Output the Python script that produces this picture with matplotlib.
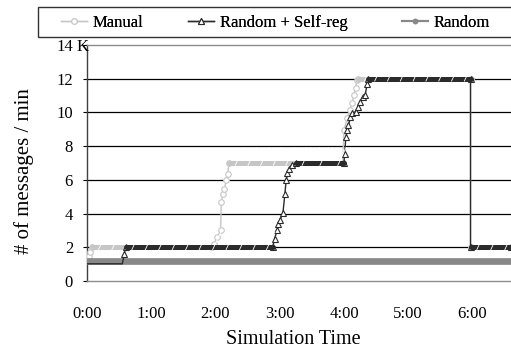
import numpy as np
import matplotlib
matplotlib.use("Agg")
import matplotlib.pyplot as plt
import matplotlib.patches as patches
import matplotlib.patheffects as pe

plt.rcParams['font.family'] = ['Liberation Serif', 'DejaVu Serif']

# Dane (czas w godzinach, wartosci w tys. wiadomosci/min)
manual_t = [0.0, 0.03, 0.05, 0.08, 1.95, 1.98, 2.03, 2.08, 2.09, 2.12, 2.14,
            2.17, 2.19, 2.21, 3.98, 4.0, 4.05, 4.09, 4.13, 4.15, 4.18, 4.2,
            4.22, 5.97, 5.97, 6.6]
manual_v = [1.2, 1.5, 1.7, 2.0, 2.0, 2.22, 2.61, 3.01, 4.69, 5.19, 5.48,
            5.98, 6.34, 7.0, 7.0, 8.95, 9.64, 10.14, 10.53, 11.03, 11.42, 11.92,
            12.0, 12.0, 2.0, 2.0]

selfreg_t = [0.0, 0.55, 0.58, 0.6, 2.89, 2.92, 2.96, 2.98, 3.0, 3.05, 3.08,
             3.1, 3.12, 3.14, 3.19, 3.25, 4.0, 4.01, 4.03, 4.05, 4.07, 4.1,
             4.12, 4.18, 4.22, 4.25, 4.29, 4.33, 4.36, 4.38, 5.97, 5.97, 6.6]
selfreg_v = [1.02, 1.02, 1.6, 2.0, 2.0, 2.52, 3.01, 3.41, 3.6, 4.04, 5.15,
             5.98, 6.38, 6.67, 6.87, 7.0, 7.0, 7.56, 8.55, 8.95, 9.25, 9.7,
             9.94, 10.04, 10.33, 10.63, 10.93, 11.03, 11.68, 12.0, 12.0, 2.0, 2.0]

random_t = [0.0, 6.6]
random_v = [1.2, 1.2]

x_ticks = [0, 1, 2, 3, 4, 5, 6]
x_labels = ["0:00", "1:00", "2:00", "3:00", "4:00", "5:00", "6:00"]
y_ticks = [0, 2, 4, 6, 8, 10, 12, 14]
y_labels = ["0", "2", "4", "6", "8", "10", "12", "14"]
series_names = ["Manual", "Random + Self-reg", "Random"]

c_manual = '#c6c6c6'
c_selfreg = '#2b2b2b'
c_random = '#888888'

dpi = 100
fig = plt.figure(figsize=(511 / dpi, 353 / dpi), dpi=dpi)
ax = fig.add_axes([87 / 511, 1 - 281 / 353, 424 / 511, 236 / 353])

ax.set_xlim(0, 6.6)
ax.set_ylim(0, 14)


def plateaus(ax, t, v, color, zorder):
    # grube "pasy" tam gdzie wartosc stoi w miejscu (gesto nalozone znaczniki)
    for i in range(len(t) - 1):
        if v[i] == v[i + 1] and t[i + 1] - t[i] > 0.1 and v[i] >= 2:
            ax.plot([t[i], t[i + 1]], [v[i], v[i]], color=color, lw=3.6,
                    solid_capstyle='round', zorder=zorder,
                    path_effects=[pe.Normal(),
                                  pe.TickedStroke(offset=(0, -1.8), spacing=9,
                                                  angle=65, length=1.6,
                                                  linewidth=0.6, foreground='white')])


# Manual
ax.plot(manual_t, manual_v, color=c_manual, lw=1.0, marker='o', ms=4,
        mfc='white', mec=c_manual, mew=0.8, zorder=3)
plateaus(ax, manual_t, manual_v, c_manual, 3.5)

# Random
ax.plot(random_t, random_v, color=c_random, lw=4.8, marker='o', ms=3,
        zorder=4, solid_capstyle='butt')

# Random + Self-reg
ax.plot(selfreg_t, selfreg_v, color=c_selfreg, lw=1.0, marker='^', ms=5,
        mfc='white', mec=c_selfreg, mew=0.8, zorder=5,
        markevery=list(range(2, len(selfreg_t))))
plateaus(ax, selfreg_t, selfreg_v, c_selfreg, 5.5)

# siatka
for yv in y_ticks[1:-1]:
    ax.axhline(yv, color='black', lw=0.9, zorder=1)

ax.set_xticks(x_ticks)
ax.set_xticklabels(x_labels, fontsize=12)
ax.set_yticks(y_ticks)
ax.set_yticklabels(y_labels, fontsize=12)
ax.tick_params(axis='x', length=0, pad=18)
ax.tick_params(axis='y', length=3, width=0.8, pad=7)

for s in ['top', 'bottom']:
    ax.spines[s].set_color('#8c8c8c')
    ax.spines[s].set_linewidth(1.0)
ax.spines['right'].set_visible(False)
ax.spines['left'].set_color('#404040')
ax.spines['left'].set_linewidth(1.0)

fig.text(77 / 511, 1 - 45 / 353, "K", fontsize=12, ha='left',
         va='center_baseline')

fig.text(293 / 511, 1 - 339 / 353, "Simulation Time", fontsize=14.5,
         ha='center', va='center')
fig.text(24 / 511, 1 - 171 / 353, "# of messages / min", fontsize=15,
         rotation=90, ha='center', va='center')

# legenda - ramka wychodzi poza prawa krawedz obrazka
box = patches.Rectangle((38 / 511, 1 - 37 / 353), 500 / 511, 30 / 353,
                        transform=fig.transFigure, fill=False,
                        edgecolor='#333333', lw=1.0, clip_on=False)
fig.patches.append(box)

h1, = ax.plot([], [], color=c_manual, lw=1.0, marker='o', ms=4, mfc='white',
              mec=c_manual, mew=0.8)
h2, = ax.plot([], [], color=c_selfreg, lw=1.0, marker='^', ms=4.5, mfc='white',
              mec=c_selfreg, mew=0.8)
h3, = ax.plot([], [], color=c_random, lw=1.5, marker='o', ms=3)

legend_x = [61, 188, 402]
for h, name, lx in zip([h1, h2, h3], series_names, legend_x):
    lg = fig.legend([h], [name], loc='center left',
                    bbox_to_anchor=(lx / 511, 1 - 23 / 353),
                    fontsize=12, frameon=False, handlelength=1.55,
                    handletextpad=0.36, borderpad=0, borderaxespad=0)
    fig.add_artist(lg)

fig.savefig("out.png", dpi=dpi)
